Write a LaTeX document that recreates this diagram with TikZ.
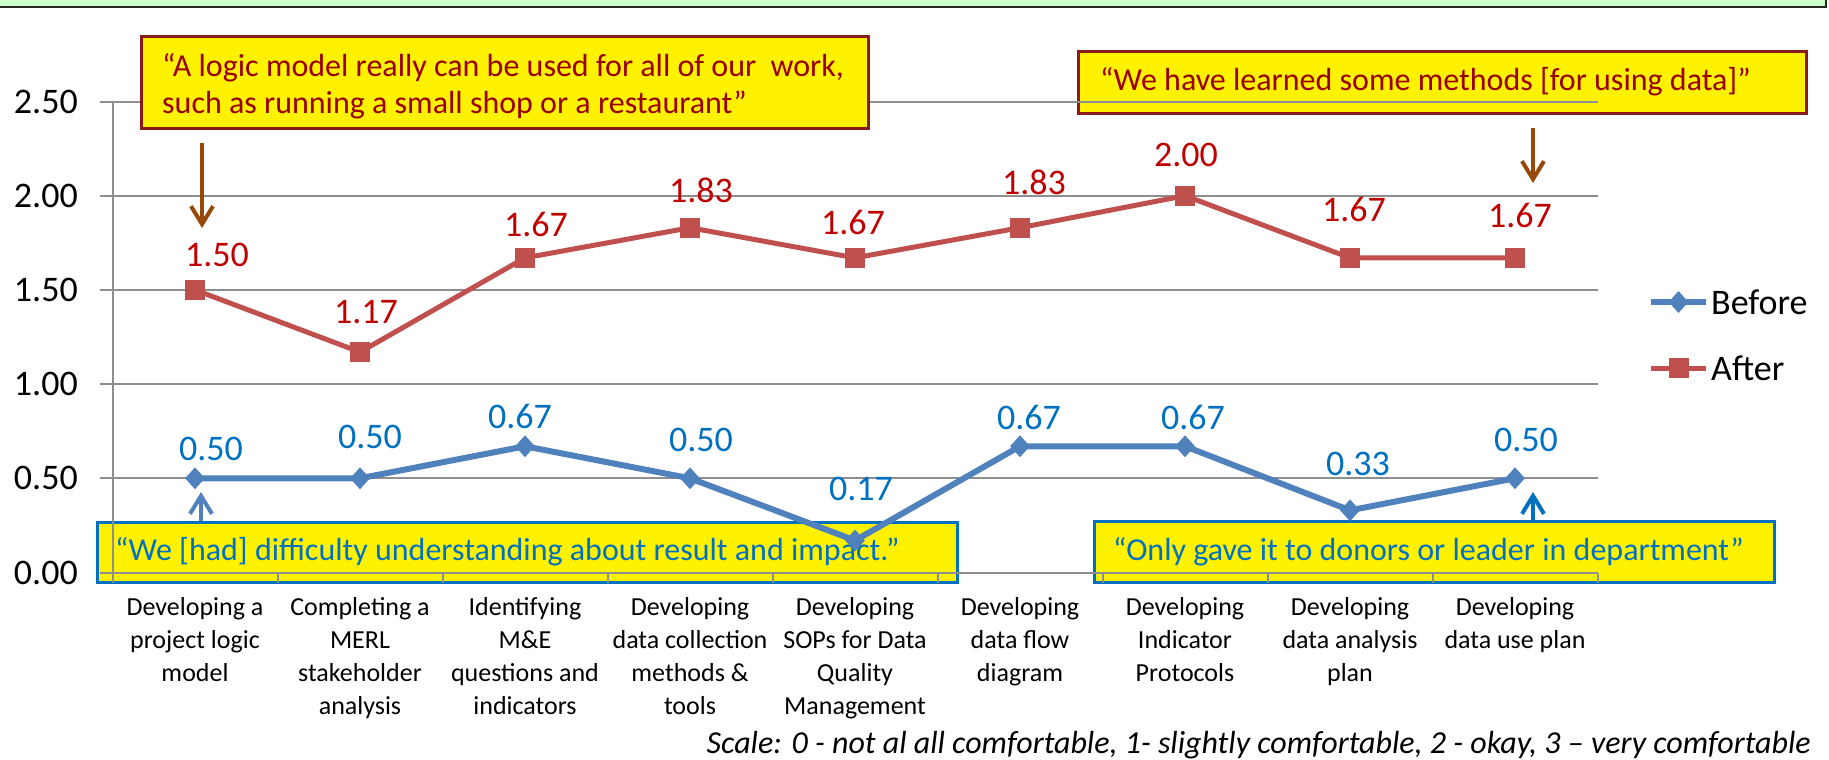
\documentclass[tikz,border=0pt]{standalone}
\usepackage{fontspec}
\setmainfont{Carlito}
\usepackage{xcolor}
\usetikzlibrary{
	positioning,						% Relative positioning
	arrows.meta,						% Advanced arrows
	shapes.geometric,					% Diamond markers
	calc								% Calculate point coordinates
}
\definecolor{beforeBlue}{HTML}{4F81BD}
\definecolor{afterRed}{HTML}{C0504D}
\definecolor{labelBlue}{HTML}{0070C0}
\definecolor{labelRed}{HTML}{C00000}
\definecolor{quoteRed}{HTML}{990000}
\definecolor{quoteBorder}{HTML}{8B1A1A}
\definecolor{arrowBrown}{HTML}{984807}
\definecolor{gridGray}{HTML}{8E8E8E}
\definecolor{bandGreen}{HTML}{CCFFCC}

\begin{document}
\begin{tikzpicture}[x=1pt, y=-1pt]
		\tikzstyle{quoteBoxRed} = [draw=quoteBorder, line width=3pt, fill=yellow, inner sep=0pt]
		\tikzstyle{quoteBoxBlue} = [draw=labelBlue, line width=3pt, fill=yellow, inner sep=0pt]
		\tikzstyle{quoteText} = [inner sep=0pt, align=left, font=\fontsize{32}{37}\selectfont]
		\tikzstyle{gridline} = [draw=gridGray, line width=2pt]
		\tikzstyle{axisLabel} = [anchor=east, inner sep=0pt, font=\fontsize{36}{43}\selectfont]
		\tikzstyle{valLabel} = [anchor=north, inner sep=0pt, font=\fontsize{36}{43}\selectfont]
		\tikzstyle{catLabel} = [anchor=north, inner sep=0pt, align=center, font=\fontsize{26}{33}\selectfont]
		\tikzstyle{beforeLine} = [draw=beforeBlue, line width=6pt, line join=round]
		\tikzstyle{afterLine} = [draw=afterRed, line width=5pt, line join=round]
		\tikzstyle{beforeMark} = [diamond, fill=beforeBlue, inner sep=0pt, minimum width=20pt, minimum height=22pt]
		\tikzstyle{afterMark} = [rectangle, fill=afterRed, inner sep=0pt, minimum size=20pt]
		\tikzstyle{quoteArrow} = [line width=4pt, -{Straight Barb[length=18pt, width=22pt]}]
		
		\useasboundingbox (0,0) rectangle (1829,760);
		% Top band
		\fill[bandGreen] (0,0) rectangle (1826,7);
		\draw[black!85, line width=2pt] (0,7) -- (1826,7) -- (1826,0);
		
		% Quotes behind the grid
		\node[quoteBoxRed, minimum width=728pt, minimum height=61pt] (quoteB) at (1442,82.5) {};
		\node[quoteText, text=quoteRed, anchor=base west] (quoteBText) at (1100,90) {“We have learned some methods [for using data]”};
		\node[quoteBoxBlue, minimum width=860pt, minimum height=60pt] (quoteC) at (527,552) {};
		\node[quoteText, text=labelBlue, anchor=base west] (quoteCText) at (115,560) {“We [had] difficulty understanding about result and impact.”};
		\node[quoteBoxBlue, minimum width=680pt, minimum height=61pt] (quoteD) at (1434,551.5) {};
		\node[quoteText, text=labelBlue, anchor=base west] (quoteDText) at (1113,560) {“Only gave it to donors or leader in department”};
		
		% Grid and axes
		\foreach \i/\txt in {0/0.00, 1/0.50, 2/1.00, 3/1.50, 4/2.00, 5/2.50}{
			\pgfmathsetmacro{\py}{572.5 - 94.2*\i}
			\coordinate (gridL\i) at (112.5, \py);
			\coordinate (gridR\i) at (1597.5, \py);
			\draw[gridline] (gridL\i) -- (gridR\i);
			\draw[gridline] (gridL\i) -- ++(-12.5, 0);
			\node[axisLabel] (yLab\i) at (78, \py) {\txt};
		}
		\draw[gridline] (gridL0) -- (gridL5);
		%% Category ticks
		\foreach \i in {0, ..., 9}{
			\pgfmathsetmacro{\px}{112.5 + 165*\i}
			\draw[gridline] (\px, 572.5) -- (\px, 583);
		}
		
		% Series
		\foreach \i/\b/\a in {1/0.50/1.50, 2/0.50/1.17, 3/0.67/1.67, 4/0.50/1.83, 5/0.17/1.67, 6/0.67/1.83, 7/0.67/2.00, 8/0.33/1.67, 9/0.50/1.67}{
			\pgfmathsetmacro{\px}{112.5 + 165*(\i - 0.5)}
			\coordinate (before\i) at (\px, {572.5 - 188.4*\b});
			\coordinate (after\i) at (\px, {572.5 - 188.4*\a});
		}
		%% After
		\draw[afterLine] (after1) \foreach \i in {2, ..., 9}{ -- (after\i) };
		\foreach \i in {1, ..., 9}{
			\node[afterMark] (afterMark\i) at (after\i) {};
		}
		%% Before
		\draw[beforeLine] (before1) \foreach \i in {2, ..., 9}{ -- (before\i) };
		\foreach \i in {1, ..., 9}{
			\node[beforeMark] (beforeMark\i) at (before\i) {};
		}
		%% Value labels
		\foreach \i/\txt/\lx/\ly in {1/1.50/217/243, 2/1.17/366/300, 3/1.67/536/212, 4/1.83/701/178, 5/1.67/853/210, 6/1.83/1034/170, 7/2.00/1186/143, 8/1.67/1354/197, 9/1.67/1520/203}{
			\node[valLabel, text=labelRed] (afterLab\i) at (\lx, \ly) {\txt};
		}
		\foreach \i/\txt/\lx/\ly in {1/0.50/211/437, 2/0.50/370/425, 3/0.67/520/404, 4/0.50/701/428, 5/0.17/861/477, 6/0.67/1029/405, 7/0.67/1193/405, 8/0.33/1358/452, 9/0.50/1526/428}{
			\node[valLabel, text=labelBlue] (beforeLab\i) at (\lx, \ly) {\txt};
		}
		
		% Quote above the grid
		\node[quoteBoxRed, minimum width=727pt, minimum height=91pt] (quoteA) at (504.5,82.5) {};
		\node[quoteText, text=quoteRed, anchor=west] (quoteAText) at (162,86) {“A logic model really can be used for all of our~~work,\\such as running a small shop or a restaurant”};
		
		% Arrows
		\coordinate (arrowAStart) at (202,143);
		\coordinate (arrowAEnd) at (202,228);
		\draw[quoteArrow, arrowBrown] (arrowAStart) -- (arrowAEnd);
		\coordinate (arrowBStart) at (1533,128);
		\coordinate (arrowBEnd) at (1533,183);
		\draw[quoteArrow, arrowBrown] (arrowBStart) -- (arrowBEnd);
		\coordinate (arrowCTip) at (201,492);
		\draw[quoteArrow, beforeBlue] (arrowCTip |- quoteC.north) -- (arrowCTip);
		\coordinate (arrowDTip) at (1533,492);
		\draw[quoteArrow, labelBlue] (arrowDTip |- quoteD.north) -- (arrowDTip);
		
		% Legend
		\coordinate (legBeforeL) at (1651,302);
		\coordinate (legBeforeR) at (1706,302);
		\draw[beforeLine] (legBeforeL) -- (legBeforeR);
		\node[beforeMark] (legBeforeMark) at ($(legBeforeL)!0.5!(legBeforeR)$) {};
		\node[anchor=west, inner sep=0pt, font=\fontsize{36}{43}\selectfont] (legBeforeText) at (1711,302) {Before};
		\coordinate (legAfterL) at (1651,368);
		\coordinate (legAfterR) at (1706,368);
		\draw[afterLine] (legAfterL) -- (legAfterR);
		\node[afterMark] (legAfterMark) at ($(legAfterL)!0.5!(legAfterR)$) {};
		\node[anchor=west, inner sep=0pt, font=\fontsize{36}{43}\selectfont] (legAfterText) at (1711,368) {After};
		
		% Categories
		\foreach \i/\txt in {1/{Developing a\\project logic\\model}, 2/{Completing a\\MERL\\stakeholder\\analysis}, 3/{Identifying\\M\&E\\questions and\\indicators}, 4/{Developing\\data collection\\methods \&\\tools}, 5/{Developing\\SOPs for Data\\Quality\\Management}, 6/{Developing\\data flow\\diagram}, 7/{Developing\\Indicator\\Protocols}, 8/{Developing\\data analysis\\plan}, 9/{Developing\\data use plan}}{
			\node[catLabel] (cat\i) at ({112.5 + 165*(\i - 0.5)}, 597) {\txt};
		}
		
		% Scale note
		\node[anchor=base east, inner sep=0pt, font=\fontsize{32}{38}\selectfont\itshape] (scaleNote) at (1811,753) {Scale: 0 - not al all comfortable, 1- slightly comfortable, 2 - okay, 3 – very comfortable};
	\end{tikzpicture}
\end{document}
